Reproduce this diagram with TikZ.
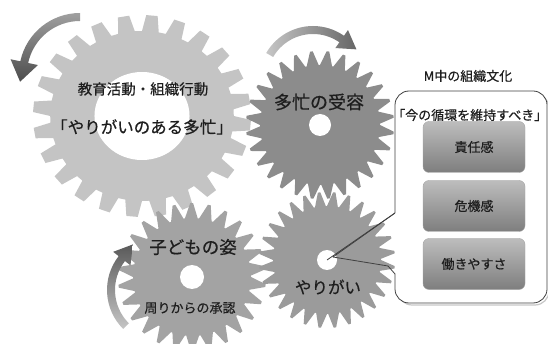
\documentclass[tikz,border=0pt]{standalone}
\usepackage{fontspec}
\setmainfont{Noto Sans CJK JP}[FakeBold=0.5]
\usetikzlibrary{calc}
\definecolor{gearA}{HTML}{C4C4C4}
\definecolor{gearB}{HTML}{8C8C8C}
\definecolor{gearC}{HTML}{9B9B9B}
\definecolor{gearD}{HTML}{A3A3A3}
\definecolor{txt}{HTML}{1E1E1E}
\definecolor{lineC}{HTML}{404040}
\definecolor{boxTop}{HTML}{BDBDBD}
\definecolor{boxBot}{HTML}{7E7E7E}
\def\gfa{0.3}\def\gfb{0.43}\def\gfc{0.87}
% #1 scope options, #2 teeth, #3 root radius, #4 tip radius, #5 fill, #6 hole radius
\newcommand\mygear[6]{%
  \begin{scope}[#1]
    \fill[#5] (0:#3pt) \foreach \i in {1,...,#2}{
      -- ({(\i-1+\gfa)*360/#2}:#3pt) -- ({(\i-1+\gfb)*360/#2}:#4pt)
      -- ({(\i-1+\gfc)*360/#2}:#4pt) -- ({\i*360/#2}:#3pt)} -- cycle;
    \fill[white] (0,0) circle[radius=#6pt];
  \end{scope}}
\tikzset{
  lbl/.style={text=txt, inner sep=0pt},
  cbox/.style={rounded corners=6pt, top color=boxTop, bottom color=boxBot, draw=gray!70,
    line width=0.4pt, minimum width=102pt, minimum height=51pt, text=txt, inner sep=0pt,
    font=\fontsize{13}{15}\selectfont},
  callout/.style={draw=lineC, line width=0.8pt},
}
\begin{document}
\begin{tikzpicture}[x=1pt,y=-1pt]
\useasboundingbox (0,0) rectangle (548,344);
% gears
\def\gfa{0.3}\def\gfb{0.45}\def\gfc{0.85}
\mygear{shift={(142,116)},xscale=1.08}{24}{85}{101}{gearA}{44}
\def\gfa{0.1}\def\gfb{0.44}\def\gfc{0.6}
\mygear{shift={(192,277)}}{26}{59}{74}{gearD}{12}
\mygear{shift={(320,125)}}{28}{60}{74}{gearB}{11}
\mygear{shift={(327,260)}}{28}{54}{68}{gearC}{10}
\coordinate (g1) at (142,116);
\coordinate (g2) at (320,125);
\coordinate (g3) at (327,260);
\coordinate (g4) at (192,277);
% arrows
\coordinate (ca) at (80,74);
\shade[top color=gray!75, bottom color=black!70]
  ([shift={(ca)}]90:61pt) arc[start angle=90,end angle=168,radius=61pt]
  -- ([shift={(ca)}]168:71pt) -- ($([shift={(ca)}]168:57pt)+(258:20pt)$)
  -- ([shift={(ca)}]168:43pt) -- ([shift={(ca)}]168:53pt)
  arc[start angle=168,end angle=90,radius=53pt] -- cycle;
\coordinate (cb) at (313,80);
\shade[left color=gray!45, right color=black!60]
  ([shift={(cb)}]150:54pt) arc[start angle=150,end angle=55,radius=54pt]
  -- ([shift={(cb)}]55:61pt) -- ($([shift={(cb)}]55:50pt)+(-35:18pt)$)
  -- ([shift={(cb)}]55:39pt) -- ([shift={(cb)}]55:46pt)
  arc[start angle=55,end angle=150,radius=46pt] -- cycle;
\coordinate (cc) at (162,290);
\shade[top color=black!65, bottom color=gray!45]
  ([shift={(cc)}]225:55pt) arc[start angle=225,end angle=142,radius=55pt]
  -- ([shift={(cc)}]142:62pt) -- ($([shift={(cc)}]142:51pt)+(52:18pt)$)
  -- ([shift={(cc)}]142:40pt) -- ([shift={(cc)}]142:47pt)
  arc[start angle=142,end angle=225,radius=47pt] -- cycle;
% gear labels
\node[lbl, font=\fontsize{14.5}{16}\selectfont] (t1) at (143,89) {教育活動・組織行動};
\node[lbl, font=\fontsize{16.5}{18}\selectfont] (t2) at (142,127) {「やりがいのある多忙」};
\node[lbl, font=\fontsize{18}{20}\selectfont] (t3) at (319,102) {多忙の受容};
\node[lbl, font=\fontsize{17.5}{20}\selectfont] (t4) at (193,247) {子どもの姿};
\node[lbl, font=\fontsize{13}{15}\selectfont] (t5) at (190,308) {周りからの承認};
\node[lbl, font=\fontsize{16.5}{18}\selectfont] (t6) at (328,287) {やりがい};
% callout
\draw[gray!45, line width=1.2pt, rounded corners=14pt] (398,94) rectangle (549,305);
\fill[white, rounded corners=14pt] (395,91) rectangle (547,303);
\draw[callout, rounded corners=14pt] (395,213) -- (395,91) -- (547,91) -- (547,303) -- (395,303) -- (395,274);
\draw[callout] (395,213) -- (g3) ++(6,-3) coordinate (tip) (tip) -- (388,266) -- (395,274);
\draw[callout] (395,213) -- (tip);
\node[lbl, font=\fontsize{13}{15}\selectfont] (t7) at (468,76) {M中の組織文化};
\node[lbl, anchor=west, font=\fontsize{13}{15}\selectfont] (t8) at (392,115) {「今の循環を維持すべき」};
\node[cbox] (b1) at (474,147) {責任感};
\node[cbox] (b2) at (474,206) {危機感};
\node[cbox] (b3) at (474,264) {働きやすさ};
\end{tikzpicture}
\end{document}
